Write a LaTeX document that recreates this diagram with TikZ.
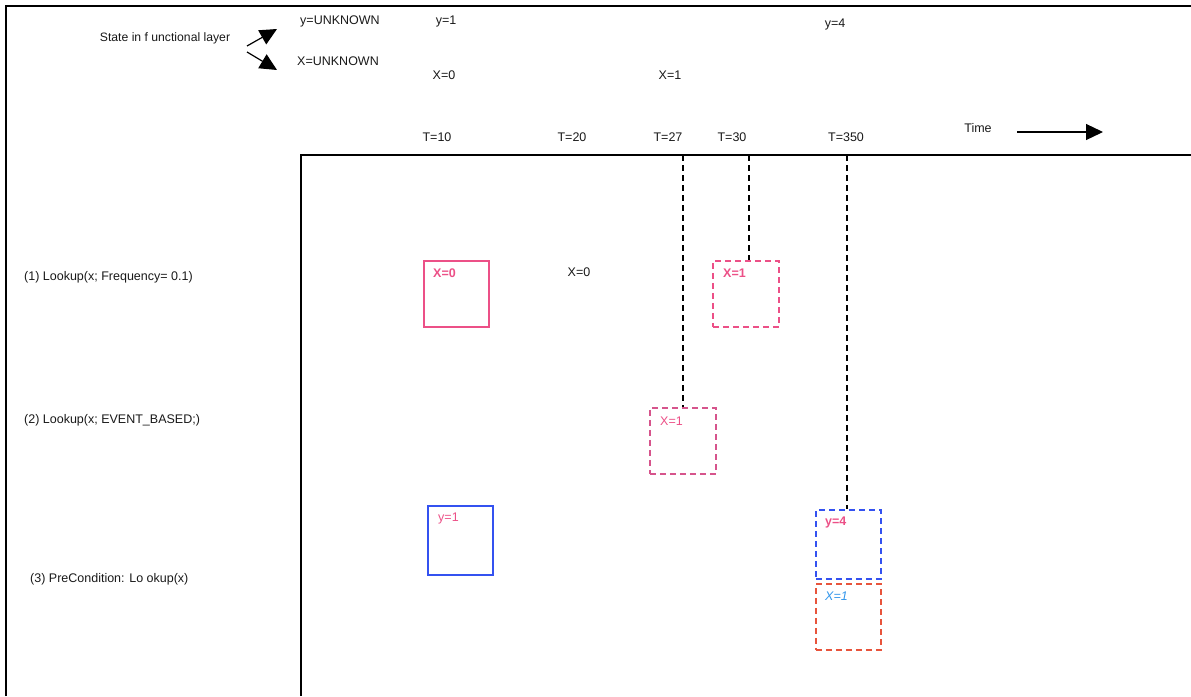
\documentclass[tikz,border=0pt]{standalone}
\usepackage{fontspec}
\setmainfont{Liberation Sans}
\usetikzlibrary{arrows.meta}
\definecolor{pinkc}{RGB}{236,80,135}
\definecolor{mauvec}{RGB}{214,84,140}
\definecolor{bluec}{RGB}{52,82,240}
\definecolor{redc}{RGB}{232,84,60}
\definecolor{lbluec}{RGB}{50,150,235}
\begin{document}
\begin{tikzpicture}[x=1pt,y=-1pt,
  txt/.style={inner sep=0pt,font=\fontsize{12.5}{14}\selectfont,text=black!90},
  lbl/.style={inner sep=0pt,font=\fontsize{12.5}{14}\selectfont,anchor=west},
  frame/.style={line width=1.4pt,black},
  boxn/.style={draw,line width=1.6pt,minimum width=#1,anchor=north west,inner sep=0pt},
  dsh/.style={dash pattern=on 6pt off 4pt},
  vdash/.style={line width=1.2pt,black,dash pattern=on 6pt off 4pt},
  bigarrow/.style={line width=1.2pt,-{Triangle[length=17pt,width=16pt]}}]
\useasboundingbox (0,0) rectangle (1191,696);
% frames
\coordinate (o1) at (6,696);
\coordinate (o2) at (6,6);
\coordinate (o3) at (1191,6);
\draw[frame] (o1) -- (o2) -- (o3);
\coordinate (i1) at (301,696);
\coordinate (i2) at (301,155);
\coordinate (i3) at (1191,155);
\draw[frame] (i1) -- (i2) -- (i3);
% top legend
\node[txt,font=\fontsize{12.2}{14}\selectfont] (state) at (165,38) {State in f unctional layer};
\coordinate (fork1) at (247,46);
\coordinate (fork2) at (247,52);
\node[txt] (yunk) at (340,21) {y=UNKNOWN};
\node[txt] (xunk) at (338,61) {X=UNKNOWN};
\coordinate (tipy) at (277,29);
\coordinate (tipx) at (277,70);
\draw[bigarrow] (fork1) -- (tipy);
\draw[bigarrow] (fork2) -- (tipx);
\node[txt] (y1) at (446,21) {y=1};
\node[txt] (x0) at (444,75) {X=0};
\node[txt] (x1) at (670,75) {X=1};
\node[txt] (y4) at (835,24) {y=4};
% times
\node[txt] (t10) at (437,137) {T=10};
\node[txt] (t20) at (572,137) {T=20};
\node[txt] (t27) at (668,137) {T=27};
\node[txt] (t30) at (732,137) {T=30};
\node[txt] (t350) at (846,137) {T=350};
\node[txt] (time) at (978,128) {Time};
\coordinate (ta) at (1017,132);
\coordinate (tb) at (1103,132);
\draw[bigarrow] (ta) -- (tb);
% row labels
\node[txt,anchor=west] (r1) at (24,277) {(1) Lookup(x; Frequency= 0.1)};
\node[txt,anchor=west] (r2) at (24,420) {(2) Lookup(x; EVENT\_BASED;)};
\node[txt,anchor=west] (r3) at (30,579) {(3) PreCondition: Lo okup(x)};
% boxes
\node[boxn=65pt,minimum height=66pt,draw=pinkc] (b1) at (423,260) {};
\node[lbl,text=pinkc,font=\fontsize{12.5}{14}\selectfont\bfseries] (b1l) at (433,273) {X=0};
\node[txt] (x0b) at (579,272) {X=0};
\node[boxn=66pt,minimum height=66pt,draw=pinkc,dsh] (b2) at (712,260) {};
\node[lbl,text=pinkc,font=\fontsize{12.5}{14}\selectfont\bfseries] (b2l) at (723,273) {X=1};
\node[boxn=66pt,minimum height=66pt,draw=mauvec,dsh] (b3) at (649,407) {};
\node[lbl,text=pinkc] (b3l) at (660,421) {X=1};
\node[boxn=65pt,minimum height=69pt,draw=bluec] (b4) at (427,505) {};
\node[lbl,text=pinkc] (b4l) at (438,518) {y=1};
\node[boxn=65pt,minimum height=69pt,draw=bluec,dsh] (b5) at (815,509) {};
\node[lbl,text=pinkc,font=\fontsize{12.5}{14}\selectfont\bfseries] (b5l) at (825,522) {y=4};
\node[boxn=65pt,minimum height=66pt,draw=redc,dsh] (b6) at (815,583) {};
\node[lbl,text=lbluec,font=\fontsize{12.5}{14}\selectfont\itshape] (b6l) at (825,596) {X=1};
% dashed timelines
\coordinate (v27) at (683,155);
\coordinate (v30) at (749,155);
\coordinate (v350) at (847,155);
\draw[vdash] (v27) -- (v27 |- b3.north);
\draw[vdash] (v30) -- (v30 |- b2.north);
\draw[vdash] (v350) -- (v350 |- b5.north);
\end{tikzpicture}
\end{document}
